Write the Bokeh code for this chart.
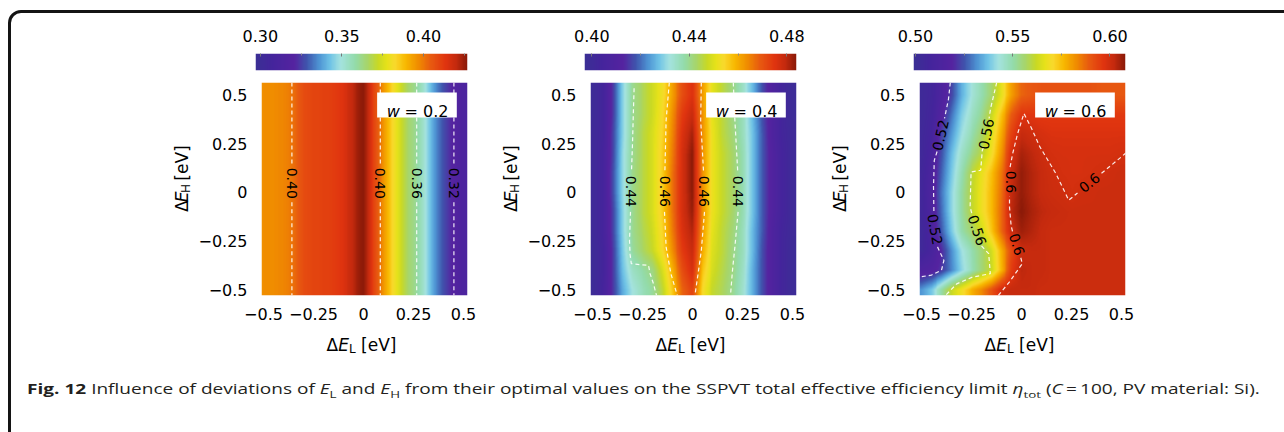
import numpy as np
from bokeh.plotting import figure
from bokeh.models import (Range1d, FixedTicker, LinearColorMapper, Label, BoxAnnotation,
                          Div, Spacer, InlineStyleSheet)
from bokeh.layouts import row, column
from bokeh.embed import file_html
from bokeh.resources import INLINE
from bokeh.core.properties import value

# ===================== DATA =====================
DEL_COARSE = [-0.50, -0.45, -0.40, -0.35, -0.30, -0.25, -0.20, -0.15, -0.10, -0.05, 0.00,
              0.05, 0.10, 0.15, 0.20, 0.25, 0.30, 0.35, 0.40, 0.45, 0.50]
DEH_ROWS = [0.5, 0.4, 0.3, 0.2, 0.1, 0.0, -0.1, -0.2, -0.3, -0.4, -0.5]   # top -> bottom
DEL_FINE = [-0.500, -0.475, -0.450, -0.425, -0.400, -0.375, -0.350, -0.325, -0.300, -0.275,
            -0.250, -0.225, -0.200, -0.175, -0.150, -0.125, -0.100, -0.075, -0.050, -0.025,
            0.000, 0.025, 0.050, 0.075, 0.100, 0.125, 0.150, 0.175, 0.200, 0.225,
            0.250, 0.275, 0.300, 0.325, 0.350, 0.375, 0.400, 0.425, 0.450, 0.475, 0.500]
DEH_W02 = [0.5, -0.5]

# w = 0.2 : eta_tot depends on dE_L only (same for every dE_H)
ETA_W02 = [0.3965, 0.397, 0.397, 0.3975, 0.398, 0.399, 0.4015, 0.405, 0.408, 0.409,
           0.410, 0.410, 0.411, 0.411, 0.412, 0.413, 0.415, 0.418, 0.421, 0.425,
           0.427, 0.420, 0.410, 0.403, 0.396, 0.389, 0.382, 0.376, 0.370, 0.365,
           0.362, 0.358, 0.353, 0.345, 0.338, 0.332, 0.327, 0.323, 0.320, 0.316, 0.313]

# w = 0.4 : rows = DEH_ROWS, columns = DEL_COARSE
ETA_W04 = [
    [.399, .403, .414, .429, .440, .444, .448, .453, .462, .471, .476, .462, .451, .446, .441, .435, .427, .417, .409, .403, .399],
    [.399, .403, .414, .429, .440, .444, .448, .454, .464, .474, .479, .463, .451, .446, .441, .436, .427, .417, .409, .403, .399],
    [.400, .403, .415, .429, .440, .445, .449, .455, .465, .476, .482, .463, .452, .446, .442, .436, .428, .418, .409, .403, .400],
    [.400, .404, .415, .430, .440, .445, .449, .456, .466, .477, .484, .463, .452, .447, .443, .437, .428, .418, .410, .404, .400],
    [.400, .404, .416, .430, .4405, .445, .449, .456, .467, .477, .484, .463, .452, .447, .443, .437, .428, .418, .410, .404, .400],
    [.400, .404, .416, .430, .4405, .445, .449, .456, .467, .477, .484, .463, .452, .447, .443, .437, .428, .418, .410, .404, .400],
    [.400, .404, .415, .429, .440, .445, .449, .456, .467, .477, .483, .463, .452, .447, .443, .437, .428, .418, .410, .404, .400],
    [.400, .404, .415, .429, .440, .444, .448, .455, .466, .476, .481, .462, .451, .446, .442, .436, .427, .418, .409, .403, .400],
    [.399, .403, .414, .428, .439, .443, .447, .454, .464, .474, .479, .460, .450, .446, .441, .436, .427, .417, .409, .403, .399],
    [.399, .403, .414, .427, .435, .438, .441, .449, .460, .471, .477, .457, .449, .445, .441, .435, .426, .417, .409, .403, .399],
    [.399, .404, .414, .425, .432, .436, .439, .446, .457, .468, .473, .454, .447, .444, .440, .434, .426, .417, .409, .403, .399],
]

# w = 0.6 : rows = DEH_ROWS, columns = DEL_COARSE
ETA_W06 = [
    [.503, .506, .513, .523, .535, .543, .549, .556, .567, .580, .588, .590, .591, .591, .591, .591, .591, .591, .590, .590, .590],
    [.503, .507, .516, .528, .539, .546, .552, .562, .575, .589, .597, .597, .596, .596, .596, .596, .596, .596, .596, .596, .596],
    [.504, .508, .522, .532, .542, .549, .556, .566, .579, .594, .602, .6005, .599, .598, .598, .598, .598, .598, .598, .598, .598],
    [.504, .510, .524, .536, .546, .553, .5595, .569, .582, .599, .605, .603, .601, .5995, .599, .599, .599, .599, .599, .599, .5995],
    [.505, .512, .526, .538, .549, .5595, .567, .575, .586, .601, .607, .604, .602, .6005, .5995, .599, .599, .5995, .600, .6005, .601],
    [.505, .514, .528, .540, .551, .5605, .568, .576, .587, .602, .607, .604, .602, .601, .6005, .5995, .6003, .6005, .601, .601, .601],
    [.505, .513, .527, .540, .551, .5605, .568, .576, .588, .603, .608, .605, .603, .602, .6015, .601, .601, .601, .601, .601, .601],
    [.504, .511, .525, .538, .550, .556, .563, .574, .588, .601, .606, .604, .602, .601, .601, .601, .601, .601, .601, .601, .601],
    [.504, .510, .519, .531, .542, .549, .555, .5635, .578, .592, .601, .602, .602, .601, .601, .601, .601, .601, .601, .601, .601],
    [.514, .516, .521, .530, .540, .548, .555, .562, .577, .595, .603, .602, .602, .601, .601, .601, .601, .601, .601, .601, .601],
    [.532, .538, .550, .562, .569, .577, .583, .591, .6005, .602, .602, .602, .601, .601, .601, .601, .601, .601, .601, .601, .601],
]

CB_RANGE = [(0.297, 0.427), (0.397, 0.484), (0.499, 0.608)]
CB_TICKS = [[0.30, 0.35, 0.40], [0.40, 0.44, 0.48], [0.50, 0.55, 0.60]]
CB_LABELS = [["0.30", "0.35", "0.40"], ["0.40", "0.44", "0.48"], ["0.50", "0.55", "0.60"]]
CB_MINOR = [[0.325, 0.375, 0.425], [0.42, 0.46], [0.525, 0.575]]

AXIS_TICKS = [-0.5, -0.25, 0, 0.25, 0.5]
AXIS_TICK_LABELS = ["\u22120.5", "\u22120.25", "0", "0.25", "0.5"]
W_VALUES = ["0.2", "0.4", "0.6"]

C02_XS = [[-0.358, -0.358], [-0.358, -0.358], [0.084, 0.084], [0.084, 0.084],
          [0.266, 0.266], [0.266, 0.266], [0.452, 0.452], [0.452, 0.452]]
C02_YS = [[0.565, 0.145], [-0.05, -0.53]] * 4
L02_TEXT = ["0.40", "0.40", "0.36", "0.32"]
L02_X = [-0.358, 0.084, 0.266, 0.452]
L02_Y = [0.047, 0.047, 0.047, 0.047]
L02_ANG = [-90, -90, -90, -90]

C04_XS = [[-0.292, -0.296, -0.300, -0.305],
          [-0.310, -0.315, -0.312, -0.306, -0.26, -0.22, -0.212, -0.195, -0.18],
          [-0.116, -0.132, -0.138], [-0.14, -0.132, -0.108, -0.076],
          [0.044, 0.041, 0.055], [0.06, 0.044, 0.028, 0.012],
          [0.204, 0.212, 0.226], [0.228, 0.212, 0.20, 0.19]]
C04_YS = [[0.535, 0.40, 0.25, 0.11],
          [-0.10, -0.25, -0.32, -0.366, -0.372, -0.375, -0.418, -0.47, -0.53],
          [0.565, 0.37, 0.11], [-0.10, -0.28, -0.418, -0.53],
          [0.565, 0.37, 0.11], [-0.10, -0.30, -0.418, -0.53],
          [0.565, 0.37, 0.11], [-0.10, -0.28, -0.40, -0.53]]
L04_TEXT = ["0.44", "0.46", "0.46", "0.44"]
L04_X = [-0.31, -0.136, 0.058, 0.227]
L04_Y = [0.005, 0.005, 0.005, 0.005]
L04_ANG = [-90, -90, -90, -90]

C06_XS = [[-0.356, -0.365, -0.385], [-0.422, -0.436, -0.44, -0.438],
          [-0.42, -0.388, -0.40, -0.45, -0.52],
          [-0.124, -0.155, -0.162], [-0.19, -0.196, -0.204, -0.252, -0.257, -0.248],
          [-0.2, -0.164, -0.156, -0.244, -0.324, -0.38],
          [-0.116, -0.06, 0.004, -0.005], [-0.045, -0.052, -0.06, -0.06],
          [-0.057, -0.044, -0.02, 0.012, 0.05, 0.092, 0.172, 0.236, 0.28],
          [0.40, 0.5, 0.53]]
C06_YS = [[0.565, 0.48, 0.38], [0.21, 0.165, 0.03, -0.10],
          [-0.28, -0.35, -0.40, -0.425, -0.437],
          [0.565, 0.43, 0.38], [0.23, 0.217, 0.114, 0.105, -0.075, -0.11],
          [-0.275, -0.315, -0.418, -0.435, -0.47, -0.53],
          [-0.53, -0.46, -0.366, -0.33], [-0.20, -0.17, -0.075, -0.02],
          [0.13, 0.2, 0.3, 0.406, 0.33, 0.234, 0.097, -0.04, -0.003],
          [0.0985, 0.183, 0.21]]
L06_TEXT = ["0.52", "0.52", "0.56", "0.56", "0.6", "0.6", "0.6"]
L06_X = [-0.404, -0.433, -0.176, -0.222, -0.055, -0.023, 0.34]
L06_Y = [0.294, -0.19, 0.30, -0.195, 0.054, -0.267, 0.05]
L06_ANG = [77, -80, 79, -72, -90, -73, 38.5]

# ===================== STYLE / LAYOUT =====================
FONT = "DejaVu Sans"
FS_TICK = 16
FS = 17
SUB = 12
STOPS = [(0.00, "#3b2f95"), (0.08, "#45249c"), (0.18, "#5523a0"), (0.24, "#3f55ad"),
         (0.30, "#4f95d4"), (0.35, "#6fc3e6"), (0.40, "#a5e3e0"), (0.47, "#93dbaa"),
         (0.53, "#a8d567"), (0.58, "#c9d924"), (0.62, "#e6e21a"), (0.66, "#f9d92c"),
         (0.71, "#f8b800"), (0.77, "#f08c00"), (0.83, "#e85a10"), (0.90, "#e0340f"),
         (0.95, "#c42a0e"), (1.00, "#8c1a08")]


def hex2rgb(h):
    return [int(h[i:i + 2], 16) for i in (1, 3, 5)]


def build_palette(n=256):
    fr = np.array([s[0] for s in STOPS])
    cols = np.array([hex2rgb(s[1]) for s in STOPS], dtype=float)
    t = np.linspace(0, 1, n)
    out = []
    for k in range(n):
        r, g, b = (np.interp(t[k], fr, cols[:, c]) for c in range(3))
        out.append("#%02x%02x%02x" % (int(round(r)), int(round(g)), int(round(b))))
    return out


PALETTE = build_palette()

LEFT_PAD = 155
PANEL_W = 329
YLAB_W = 40
HM_W = PANEL_W - YLAB_W      # 289
ML, MR = 60, 17
FW = HM_W - ML - MR          # 212
CB_H = 75
HM_TOP, HM_BOT = 7, 30
FH = 213
HM_H = HM_TOP + FH + HM_BOT  # 250
XL_H = 30
XR = (-0.51, 0.52)
YR = (-0.53, 0.565)
SX = FW / (XR[1] - XR[0])
SY = FH / (YR[1] - YR[0])

# DejaVu Sans advance widths (em)
W_DELTA, W_E, W_H, W_L, W_SP, W_EV = 0.684, 0.632, 0.752, 0.557, 0.318, 2.079


def dx(px):
    return XR[0] + px / SX


def dy(py):
    return YR[1] - py / SY


def shaded(xg, yg_top_down, rows_top_down):
    """Smooth (bilinear) shading of the read grid onto the screen pixels of the frame."""
    xs = XR[0] + (np.arange(FW) + 0.5) * (XR[1] - XR[0]) / FW
    ys = YR[0] + (np.arange(FH) + 0.5) * (YR[1] - YR[0]) / FH
    yg = np.array(yg_top_down, dtype=float)[::-1]
    v = np.array(rows_top_down, dtype=float)[::-1]
    along_x = np.array([np.interp(xs, xg, r) for r in v])
    return np.array([np.interp(ys, yg, along_x[:, j]) for j in range(FW)]).T


def text_label(x, y, t, size=FS, italic=False, angle=0.0):
    return Label(x=x, y=y, text=t, text_font=FONT, text_font_size=f"{size}px",
                 text_font_style="italic" if italic else "normal", text_color="black",
                 text_align="left", text_baseline="alphabetic", angle=angle)


def blank_fig(w, h):
    p = figure(width=w, height=h, x_range=Range1d(0, w), y_range=Range1d(0, h),
               x_axis_type=None, y_axis_type=None, toolbar_location=None,
               output_backend="svg", min_border=0)
    p.grid.visible = False
    p.outline_line_color = None
    return p


def style_axis(ax, standoff):
    ax.ticker = FixedTicker(ticks=AXIS_TICKS)
    ax.major_label_overrides = dict(zip(AXIS_TICKS, AXIS_TICK_LABELS))
    ax.major_label_text_font = FONT
    ax.major_label_text_font_size = f"{FS_TICK}px"
    ax.major_label_text_color = "black"
    ax.axis_line_color = None
    ax.major_tick_line_color = None
    ax.minor_tick_line_color = None
    ax.major_label_standoff = standoff


def make_cbar(i):
    lo, hi = CB_RANGE[i]
    mapper = LinearColorMapper(palette=PALETTE, low=lo, high=hi)
    p = figure(width=PANEL_W, height=CB_H, x_range=Range1d(lo, hi), y_range=Range1d(0, 1),
               x_axis_location="above", toolbar_location=None, output_backend="svg",
               min_border_left=YLAB_W + ML, min_border_right=MR, min_border_top=53,
               min_border_bottom=5)
    p.yaxis.visible = False
    p.grid.visible = False
    p.outline_line_color = None
    grad = np.linspace(lo, hi, FW)[None, :]
    p.image(image=[grad], x=lo, y=0, dw=hi - lo, dh=1, color_mapper=mapper)
    ax = p.xaxis[0]
    ax.ticker = FixedTicker(ticks=CB_TICKS[i], minor_ticks=CB_MINOR[i])
    ax.major_label_overrides = dict(zip(CB_TICKS[i], CB_LABELS[i]))
    ax.major_label_text_font = FONT
    ax.major_label_text_font_size = f"{FS_TICK}px"
    ax.major_label_text_color = "black"
    ax.axis_line_color = None
    ax.major_tick_in = 3
    ax.major_tick_out = 0
    ax.minor_tick_in = 2
    ax.minor_tick_out = 0
    ax.major_tick_line_color = "#777777"
    ax.minor_tick_line_color = "#888888"
    ax.major_label_standoff = 12
    return p


def make_heat(i, img, cxs, cys, ltext, lx, ly, lang):
    lo, hi = CB_RANGE[i]
    mapper = LinearColorMapper(palette=PALETTE, low=lo, high=hi)
    p = figure(width=HM_W, height=HM_H, x_range=Range1d(*XR), y_range=Range1d(*YR),
               toolbar_location=None, output_backend="svg",
               min_border_left=ML, min_border_right=MR, min_border_top=HM_TOP,
               min_border_bottom=HM_BOT)
    p.grid.visible = False
    p.outline_line_color = None
    p.image(image=[img], x=XR[0], y=YR[0], dw=XR[1] - XR[0], dh=YR[1] - YR[0],
            color_mapper=mapper)
    p.multi_line(xs=cxs, ys=cys, line_color="white", line_dash="4 3", line_width=1.2,
                 line_alpha=0.9)
    p.text(x=lx, y=ly, text=ltext, angle=[np.deg2rad(a) for a in lang],
           text_font=value(FONT), text_font_size="14px", text_align="center",
           text_baseline="middle", text_color="black")
    style_axis(p.xaxis[0], 6)
    style_axis(p.yaxis[0], 8)
    p.add_layout(BoxAnnotation(left=dx(119), right=dx(201), top=dy(10), bottom=dy(35),
                               fill_color="white", fill_alpha=1.0, line_color=None))
    p.add_layout(text_label(dx(129), dy(28.5), "w", size=16, italic=True))
    p.add_layout(text_label(dx(129 + 0.818 * 16 + 0.318 * 16), dy(28.5),
                            "= " + W_VALUES[i], size=16))
    return p


def make_ylabel():
    p = blank_fig(YLAB_W, HM_H)
    bx = 26
    total = (W_DELTA + W_E + W_SP + W_EV) * FS + W_H * SUB
    y = (HM_H - 116) - total / 2
    a = np.pi / 2
    p.add_layout(text_label(bx, y, "\u0394", angle=a))
    y += W_DELTA * FS
    p.add_layout(text_label(bx, y, "E", italic=True, angle=a))
    y += W_E * FS
    p.add_layout(text_label(bx + 4, y, "H", size=SUB, angle=a))
    y += W_H * SUB + W_SP * FS
    p.add_layout(text_label(bx, y, "[eV]", angle=a))
    return p


def make_xlabel():
    p = blank_fig(PANEL_W, XL_H)
    total = (W_DELTA + W_E + W_SP + W_EV) * FS + W_L * SUB
    x = YLAB_W + ML + FW / 2 - total / 2
    by = 11
    p.add_layout(text_label(x, by, "\u0394"))
    x += W_DELTA * FS
    p.add_layout(text_label(x, by, "E", italic=True))
    x += W_E * FS
    p.add_layout(text_label(x, by - 4, "L", size=SUB))
    x += W_L * SUB + W_SP * FS
    p.add_layout(text_label(x, by, "[eV]"))
    return p


img02 = shaded(DEL_FINE, DEH_W02, [ETA_W02, ETA_W02])
img04 = shaded(DEL_COARSE, DEH_ROWS, ETA_W04)
img06 = shaded(DEL_COARSE, DEH_ROWS, ETA_W06)

cbs = [make_cbar(i) for i in range(3)]
hms = [
    make_heat(0, img02, C02_XS, C02_YS, L02_TEXT, L02_X, L02_Y, L02_ANG),
    make_heat(1, img04, C04_XS, C04_YS, L04_TEXT, L04_X, L04_Y, L04_ANG),
    make_heat(2, img06, C06_XS, C06_YS, L06_TEXT, L06_X, L06_Y, L06_ANG),
]
mid = []
for h in hms:
    mid += [make_ylabel(), h]
xls = [make_xlabel() for _ in range(3)]

caption = Div(
    width=1250, height=77,
    text=('<div style="font-family:\'Open Sans\'; font-size:14px; color:#231f20; '
          'white-space:nowrap; padding-top:19px; line-height:20px; transform:scaleX(1.36); '
          'transform-origin:left top;">'
          '<b>Fig. 12</b> Influence of deviations of <i>E</i><sub style="font-size:70%">L</sub> and '
          '<i>E</i><sub style="font-size:70%">H</sub> from their optimal values on the SSPVT total '
          'effective efficiency limit <i>\u03b7</i><sub style="font-size:70%">tot</sub> '
          '(<i>C</i>\u2009=\u2009100, PV material: Si).</div>'))

css = (":host{position:relative; overflow:hidden;} "
       ":host::after{content:''; position:absolute; left:8px; top:10px; width:1320px; "
       "height:480px; border:3px solid #141414; border-radius:13px; pointer-events:none;}")

root = column(
    row(Spacer(width=LEFT_PAD, height=CB_H), *cbs),
    row(Spacer(width=LEFT_PAD, height=HM_H), *mid),
    row(Spacer(width=LEFT_PAD, height=XL_H), *xls),
    row(Spacer(width=22, height=77), caption),
    width=1284, height=432, stylesheets=[InlineStyleSheet(css=css)])

open("out.html", "w").write(file_html(root, INLINE))
